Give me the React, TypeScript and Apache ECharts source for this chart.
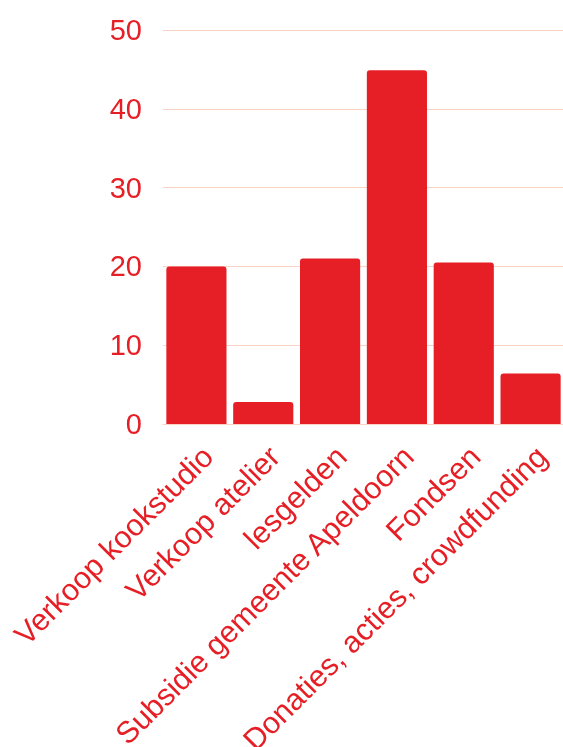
import React, { useEffect, useRef } from "react";
import * as echarts from "echarts";

const categories = [
  "Verkoop kookstudio",
  "Verkoop atelier",
  "lesgelden",
  "Subsidie gemeente Apeldoorn",
  "Fondsen",
  "Donaties, acties, crowdfunding",
];
const values = [20.0, 2.8, 21.0, 44.9, 20.5, 6.4];
const yTicks = { min: 0, max: 50, interval: 10 };

const RED = "#e51f25";
const GRID = "#fbd3c4";

export default function App() {
  const ref = useRef<HTMLDivElement>(null);
  useEffect(() => {
    if (!ref.current) return;
    const chart = echarts.init(ref.current, null, { renderer: "svg" });
    chart.setOption({
      animation: false,
      grid: {
        left: 163,
        right: -1,
        top: 30,
        bottom: 323,
        containLabel: false,
        outerBoundsMode: "none",
      },
      xAxis: {
        type: "category",
        data: categories,
        axisLine: { show: true, lineStyle: { color: GRID, width: 1 } },
        axisTick: { show: false },
        axisLabel: {
          rotate: 45,
          interval: 0,
          color: RED,
          fontSize: 30.5,
          fontFamily: "Liberation Sans, Arial, sans-serif",
          margin: 16,
          align: "right",
          verticalAlign: "top",
        },
      },
      yAxis: {
        type: "value",
        min: yTicks.min,
        max: yTicks.max,
        interval: yTicks.interval,
        axisLine: { show: false },
        axisTick: { show: false },
        splitLine: { lineStyle: { color: GRID, width: 1 } },
        axisLabel: {
          color: RED,
          fontSize: 29,
          fontFamily: "Liberation Sans, Arial, sans-serif",
          margin: 21,
        },
      },
      series: [
        {
          type: "bar",
          data: values,
          barCategoryGap: "10%",
          itemStyle: { color: RED, borderRadius: [3, 3, 0, 0] },
        },
      ],
    });
    return () => chart.dispose();
  }, []);
  return (
    <div
      ref={ref}
      style={{ position: "fixed", left: 0, top: 0, width: 563, height: 747 }}
    />
  );
}
